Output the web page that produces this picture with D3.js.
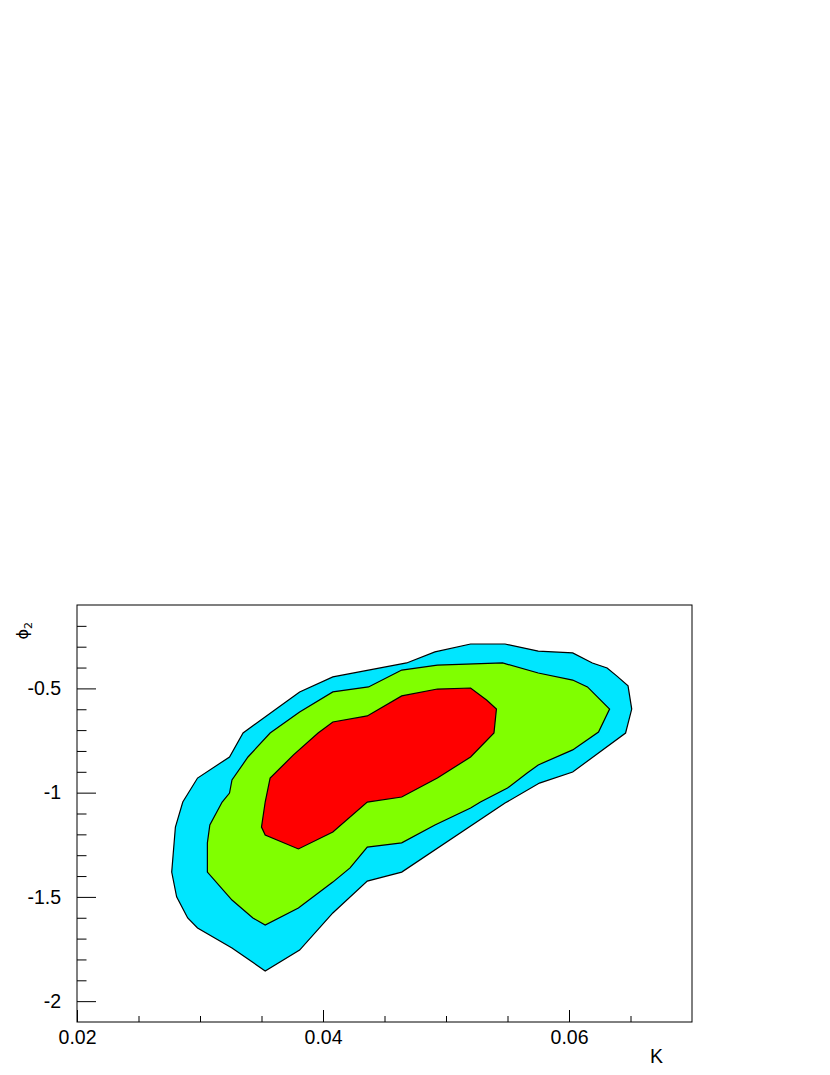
<!DOCTYPE html>
<html>
<head>
<meta charset="utf-8">
<script src="https://cdn.jsdelivr.net/npm/d3@7"></script>
<style>
  html, body { margin: 0; padding: 0; background: #fff; }
  svg { display: block; font-family: "Liberation Sans", Arial, sans-serif; }
</style>
</head>
<body>
<svg id="chart" width="830" height="1075"></svg>
<script>
// ---- data (K, phi2) ----
const xDomain = [0.02, 0.07];
const yDomain = [-2.1, -0.1];
const xMajorTicks = [0.02, 0.04, 0.06];
const xMinorTicks = [0.025, 0.03, 0.035, 0.045, 0.05, 0.055, 0.065];
const yMajorTicks = [-2, -1.5, -1, -0.5];
const yMinorTicks = [-1.9, -1.8, -1.7, -1.6, -1.4, -1.3, -1.2, -1.1, -0.9, -0.8, -0.7, -0.6, -0.4, -0.3, -0.2];
const xTitle = "K";
const yTitle = "\u03D5";
const yTitleSub = "2";

// outer contour (cyan)
const contourOuter = [
  [0.0277,-1.381],[0.0280,-1.165],[0.0286,-1.045],[0.0298,-0.930],[0.0324,-0.829],
  [0.0335,-0.714],[0.0363,-0.594],[0.0381,-0.517],[0.0408,-0.445],[0.0468,-0.378],
  [0.0491,-0.325],[0.0520,-0.287],[0.0548,-0.287],[0.0575,-0.321],[0.0603,-0.330],
  [0.0619,-0.378],[0.0631,-0.402],[0.0639,-0.441],[0.0648,-0.488],[0.0651,-0.599],
  [0.0646,-0.714],[0.0603,-0.901],[0.0576,-0.954],[0.0548,-1.050],[0.0464,-1.381],
  [0.0436,-1.424],[0.0408,-1.577],[0.0381,-1.755],[0.0353,-1.855],[0.0326,-1.745],
  [0.0298,-1.649],[0.0290,-1.601],[0.0281,-1.500]
];
// middle contour (green)
const contourMiddle = [
  [0.0306,-1.381],[0.0306,-1.241],[0.0308,-1.155],[0.0318,-1.045],[0.0324,-1.002],
  [0.0326,-0.939],[0.0339,-0.829],[0.0357,-0.714],[0.0381,-0.613],[0.0408,-0.517],
  [0.0437,-0.493],[0.0464,-0.412],[0.0493,-0.388],[0.0546,-0.378],[0.0575,-0.426],
  [0.0603,-0.460],[0.0615,-0.493],[0.0633,-0.599],[0.0624,-0.709],[0.0603,-0.795],
  [0.0575,-0.867],[0.0566,-0.906],[0.0550,-0.978],[0.0528,-1.045],[0.0520,-1.074],
  [0.0491,-1.155],[0.0464,-1.241],[0.0436,-1.261],[0.0422,-1.361],[0.0408,-1.429],
  [0.0380,-1.553],[0.0353,-1.635],[0.0343,-1.601],[0.0326,-1.515]
];
// inner contour (red)
const contourInner = [
  [0.0350,-1.165],[0.0353,-1.045],[0.0357,-0.930],[0.0376,-0.819],[0.0396,-0.714],
  [0.0408,-0.661],[0.0436,-0.632],[0.0464,-0.536],[0.0493,-0.503],[0.0520,-0.498],
  [0.0533,-0.556],[0.0541,-0.599],[0.0539,-0.714],[0.0520,-0.829],[0.0493,-0.930],
  [0.0464,-1.021],[0.0436,-1.045],[0.0408,-1.189],[0.0380,-1.270],[0.0353,-1.203]
];
const contours = [
  { pts: contourOuter, color: "#00e6ff" },
  { pts: contourMiddle, color: "#80ff00" },
  { pts: contourInner, color: "#ff0000" }
];

// ---- layout ----
const mLeft = 77, mRight = 692, mTop = 605, mBottom = 1022;
const svg = d3.select("#chart");
const x = d3.scaleLinear().domain(xDomain).range([mLeft, mRight]);
const y = d3.scaleLinear().domain(yDomain).range([mBottom, mTop]);

const line = d3.line().x(d => x(d[0])).y(d => y(d[1])).curve(d3.curveLinearClosed);

svg.append("g").selectAll("path").data(contours).join("path")
  .attr("d", d => line(d.pts))
  .attr("fill", d => d.color)
  .attr("stroke", "#000")
  .attr("stroke-width", 1.2)
  .attr("stroke-linejoin", "miter");

// frame
svg.append("rect")
  .attr("x", mLeft).attr("y", mTop)
  .attr("width", mRight - mLeft).attr("height", mBottom - mTop)
  .attr("fill", "none").attr("stroke", "#000").attr("stroke-width", 1);

const fmt = d => String(d);

// x axis
const gx = svg.append("g").attr("transform", `translate(0,${mBottom})`);
gx.call(d3.axisBottom(x).tickValues(xMajorTicks).tickSize(-12).tickPadding(8.5).tickFormat(fmt));
const gxm = svg.append("g").attr("transform", `translate(0,${mBottom})`);
gxm.call(d3.axisBottom(x).tickValues(xMinorTicks).tickSize(-6).tickFormat(""));

// y axis
const gy = svg.append("g").attr("transform", `translate(${mLeft},0)`);
gy.call(d3.axisLeft(y).tickValues(yMajorTicks).tickSize(-19).tickPadding(16).tickFormat(fmt));
const gym = svg.append("g").attr("transform", `translate(${mLeft},0)`);
gym.call(d3.axisLeft(y).tickValues(yMinorTicks).tickSize(-9.5).tickFormat(""));

svg.selectAll(".domain").remove();
svg.selectAll(".tick line").attr("stroke", "#000").attr("stroke-width", 1);
svg.selectAll(".tick text")
  .attr("font-family", "'Liberation Sans', Arial, sans-serif")
  .attr("font-size", 19.5).attr("fill", "#000");

// titles
svg.append("text")
  .attr("x", 663).attr("y", 1063)
  .attr("text-anchor", "end")
  .attr("font-size", 19.5)
  .attr("fill", "#000")
  .text(xTitle);

const yt = svg.append("text")
  .attr("transform", "translate(28,622) rotate(-90)")
  .attr("text-anchor", "end")
  .attr("font-family", "'DejaVu Sans', sans-serif")
  .attr("font-size", 16)
  .attr("fill", "#000");
yt.append("tspan").text(yTitle);
yt.append("tspan").attr("font-size", 11).attr("dy", 4).text(yTitleSub);
</script>
</body>
</html>
